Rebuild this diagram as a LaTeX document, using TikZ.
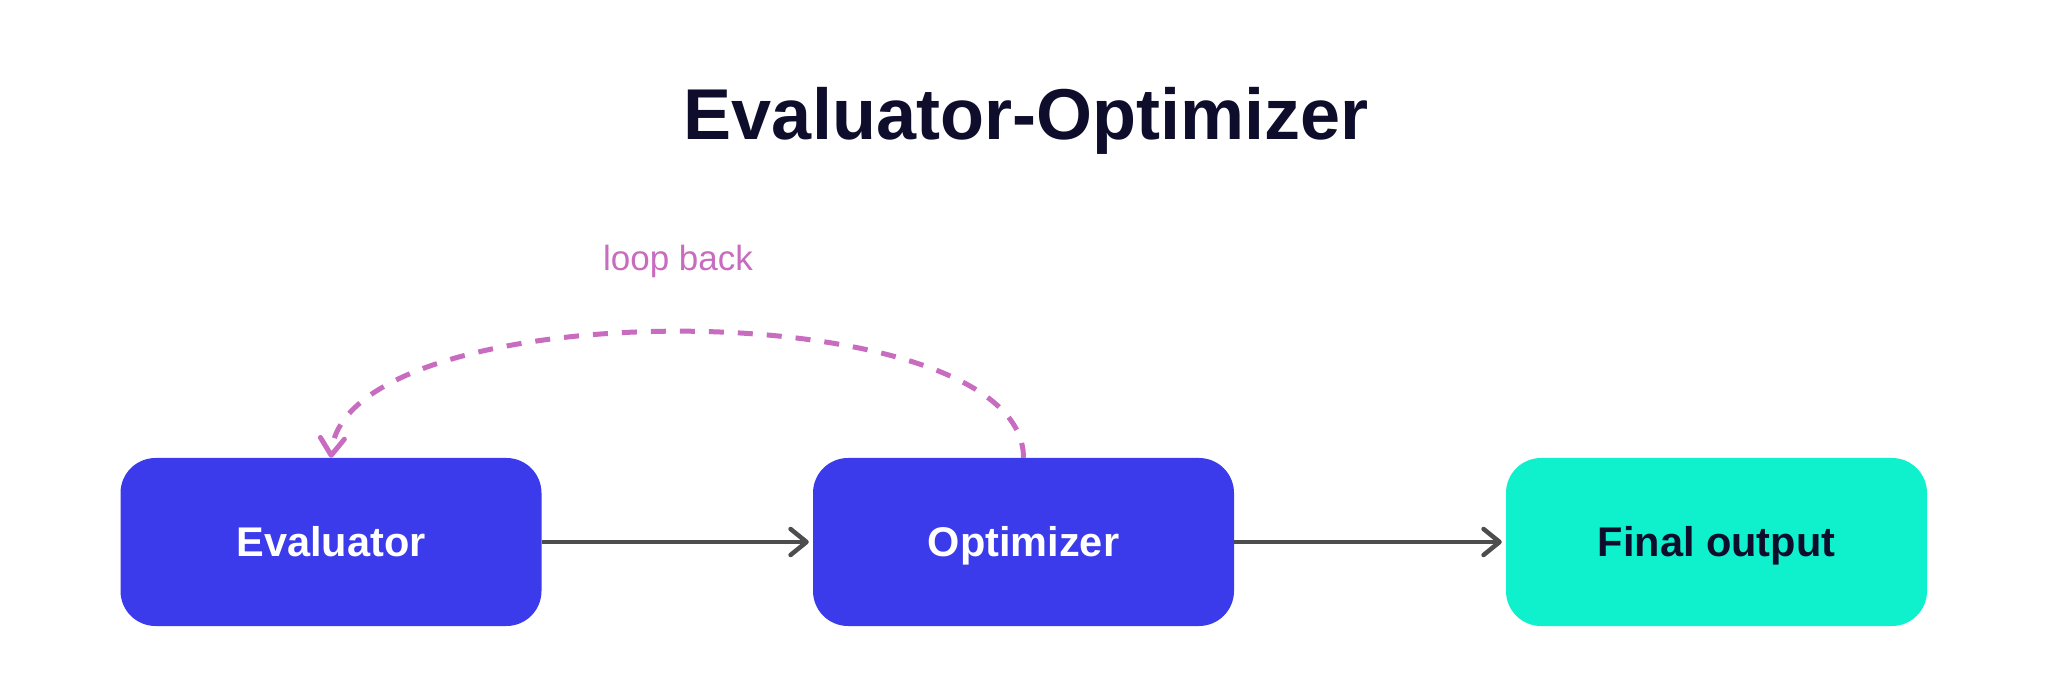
\documentclass[tikz,border=0pt]{standalone}
\usepackage{fontspec}
\setmainfont{Liberation Sans}
\usetikzlibrary{arrows.meta}
\definecolor{boxblue}{RGB}{59,59,235}
\definecolor{boxteal}{RGB}{15,240,204}
\definecolor{inkdark}{RGB}{14,13,43}
\definecolor{looppink}{RGB}{200,108,192}
\definecolor{arrowgray}{RGB}{77,77,77}
\tikzset{
  stagebox/.style={rectangle, rounded corners=35pt, minimum width=421pt, minimum height=168pt,
    inner sep=0pt, text height=29.4pt, text depth=0pt,
    font=\fontsize{41.5}{49}\selectfont\bfseries},
  flowarrow/.style={draw=arrowgray, line width=4.5pt, shorten >=4pt,
    -{Straight Barb[length=16pt,width=26pt,line join=round,line cap=round]}},
  loopline/.style={draw=looppink, line width=5pt, dash pattern=on 15pt off 14pt,
    -{Straight Barb[length=17pt,width=24pt,line join=round,line cap=round]}}
}
\begin{document}
\begin{tikzpicture}[x=1pt,y=1pt]
\useasboundingbox (0,0) rectangle (2048,699);
\node[anchor=base, text=inkdark, font=\fontsize{72}{86}\selectfont\bfseries] (title) at (1026,559) {Evaluator-Optimizer};
\node[stagebox, fill=boxblue, text=white] (eval) at (331,157) {Evaluator};
\node[stagebox, fill=boxblue, text=white] (opt) at (1023.5,157) {Optimizer};
\node[stagebox, fill=boxteal, text=inkdark] (final) at (1716.5,157) {Final output};
\node[anchor=base, text=looppink, font=\fontsize{35}{42}\selectfont] (looplabel) at (678,428) {loop back};
\draw[flowarrow] (eval.east) -- (opt.west);
\draw[flowarrow] (opt.east) -- (final.west);
\draw[loopline] (opt.north) .. controls +(0,168) and +(12,168) .. (eval.north);
\end{tikzpicture}
\end{document}
